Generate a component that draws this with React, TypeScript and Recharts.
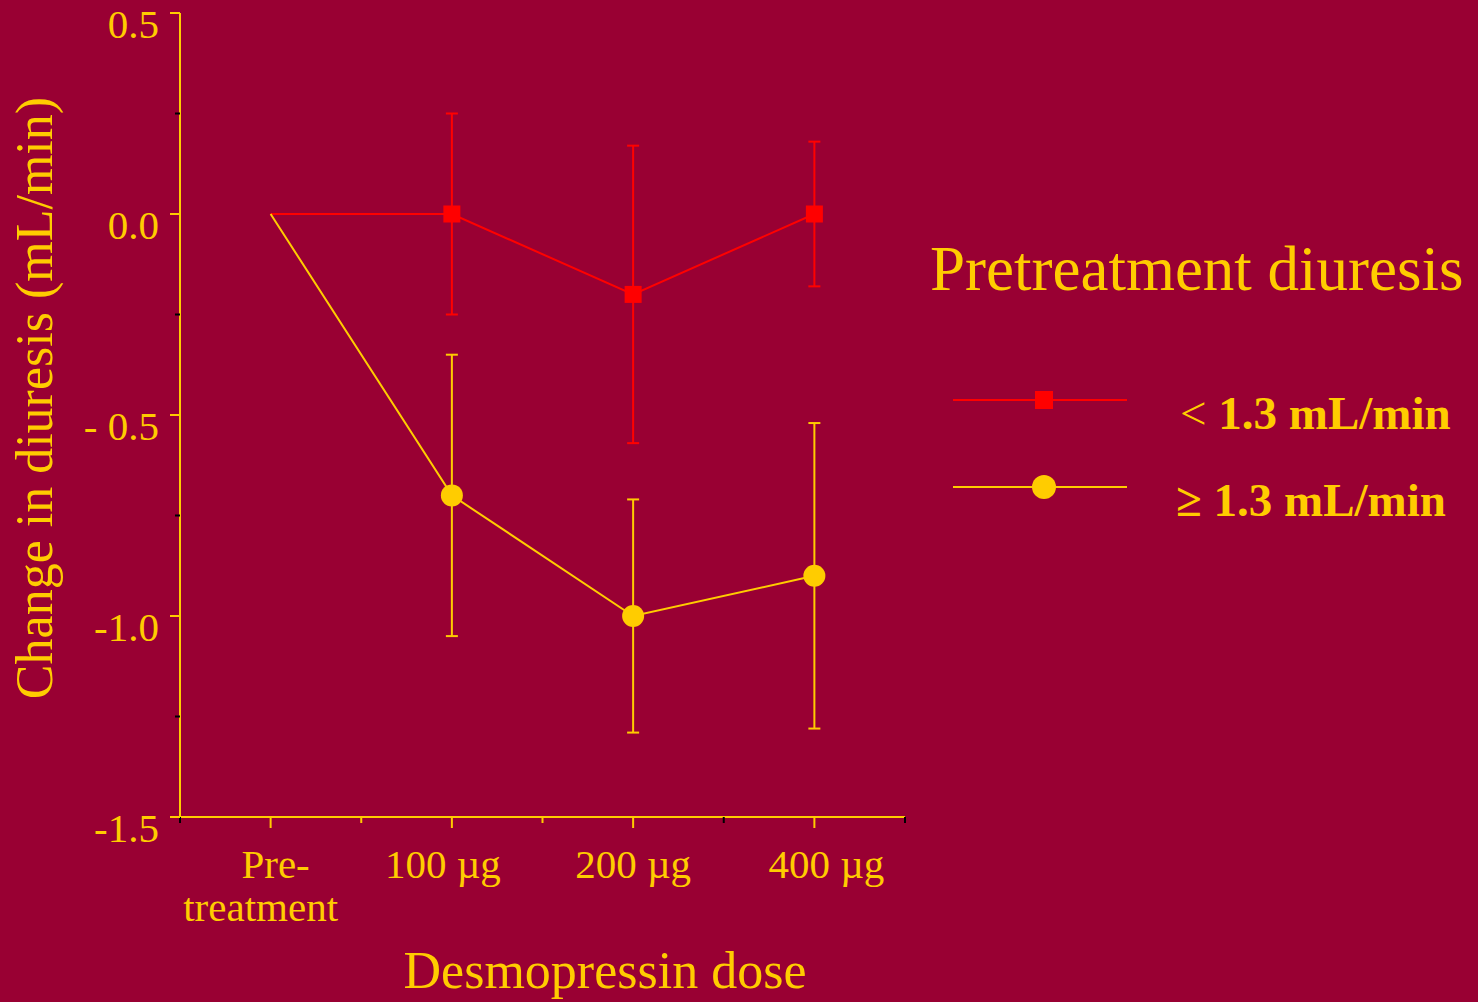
import { LineChart, Line, XAxis, YAxis, ErrorBar, Legend } from "recharts";

const BG = "#990033";
const YELLOW = "#FFCC00";
const RED = "#FF0000";
const FONT = '"Liberation Serif", "Times New Roman", Times, serif';

// x categories
const doses = ["Pre-\ntreatment", "100 µg", "200 µg", "400 µg"];

// pretreatment diuresis < 1.3 mL/min
const lowMean = [0, 0, -0.2, 0];
const lowErr = [null, 0.25, 0.37, 0.18];

// pretreatment diuresis >= 1.3 mL/min
const highMean = [0, -0.7, -1.0, -0.9];
const highErr = [null, 0.35, 0.29, 0.38];

const seriesNames = ["< 1.3 mL/min", "≥ 1.3 mL/min"];

const yTicks = [-1.5, -1.25, -1, -0.75, -0.5, -0.25, 0, 0.25, 0.5];
const majorTicks = [0.5, 0, -0.5, -1, -1.5];
const majorLabels = ["0.5", "0.0", "- 0.5", "-1.0", "-1.5"];

const data = doses.map((dose, i) => ({
  dose,
  low: lowMean[i],
  lowErr: lowErr[i],
  high: highMean[i],
  highErr: highErr[i],
}));

const boundaryColors = ["#000", YELLOW, YELLOW, "#000", "#000"];
const labelShift = [0, -9, 0, 12];

function XTick(props: any) {
  const { x, y, payload, index } = props;
  const half = payload.offset || 90.6;
  const lines = String(payload.value).split("\n");
  const tx = x + labelShift[index];
  return (
    <g>
      <line x1={x} x2={x} y1={y} y2={y + 11} stroke={YELLOW} strokeWidth={2} />
      <line x1={x - half} x2={x - half} y1={y} y2={y + 6} stroke={boundaryColors[index]} strokeWidth={2} />
      {index === doses.length - 1 && (
        <line x1={x + half} x2={x + half} y1={y} y2={y + 6} stroke={boundaryColors[index + 1]} strokeWidth={2} />
      )}
      <text x={tx} y={y + 61} textAnchor="middle" fill={YELLOW} fontSize={41} fontFamily={FONT}>
        {lines.map((l, i) => (
          <tspan key={i} x={i === 0 && lines.length > 1 ? tx + 5 : tx - 10 * (lines.length - 1)} dy={i === 0 ? 0 : 43}>
            {l}
          </tspan>
        ))}
      </text>
    </g>
  );
}

function YTick(props: any) {
  const { x, y, payload } = props;
  const mi = majorTicks.indexOf(payload.value);
  if (mi < 0) {
    return <line x1={x - 5} x2={x} y1={y} y2={y} stroke="#000" strokeWidth={2} />;
  }
  return (
    <g>
      <line x1={x - 10} x2={x} y1={y} y2={y} stroke={YELLOW} strokeWidth={2} />
      <text x={x - 21} y={y + 25} textAnchor="end" fill={YELLOW} fontSize={41} fontFamily={FONT}>
        {majorLabels[mi]}
      </text>
    </g>
  );
}

const SquareDot = (p: any) =>
  p.index === 0 ? (
    <g key={p.key} />
  ) : (
    <rect key={p.key} x={p.cx - 8.5} y={p.cy - 8.5} width={17} height={17} fill={RED} />
  );

const CircleDot = (p: any) =>
  p.index === 0 ? <g key={p.key} /> : <circle key={p.key} cx={p.cx} cy={p.cy} r={11} fill={YELLOW} />;

function LegendBox() {
  const rows = [
    { y: 400, color: RED, square: true },
    { y: 487, color: YELLOW, square: false },
  ];
  return (
    <svg width={1478} height={1002} style={{ display: "block" }}>
      <text x={930} y={290} fill={YELLOW} fontSize={63} fontFamily={FONT}>
        Pretreatment diuresis
      </text>
      {rows.map((r, i) => {
        const [sym, ...rest] = seriesNames[i].split(" ");
        return (
          <g key={i}>
            <line x1={953} x2={1127} y1={r.y} y2={r.y} stroke={r.color} strokeWidth={2} />
            {r.square ? (
              <rect x={1035} y={r.y - 9} width={18} height={18} fill={r.color} />
            ) : (
              <circle cx={1044} cy={r.y} r={12} fill={r.color} />
            )}
            <text x={i === 0 ? 1180 : 1176} y={r.y + 29} fill={YELLOW} fontSize={47} fontFamily={FONT}>
              <tspan fontWeight={i === 0 ? "normal" : "bold"}>{sym}</tspan>
              <tspan fontWeight="bold">{" " + rest.join(" ")}</tspan>
            </text>
          </g>
        );
      })}
    </svg>
  );
}

export default function App() {
  return (
    <div style={{ position: "absolute", left: 0, top: 0, width: 1478, height: 1002, background: BG }}>
      <LineChart
        width={1478}
        height={1002}
        data={data}
        margin={{ top: 13, right: 573, bottom: 0, left: 0 }}
      >
        <XAxis
          dataKey="dose"
          type="category"
          scale="band"
          height={185}
          axisLine={{ stroke: YELLOW, strokeWidth: 2 }}
          tickLine={false}
          tickSize={0}
          tickMargin={0}
          interval={0}
          tick={<XTick />}
          label={{
            content: () => (
              <text x={605} y={988} textAnchor="middle" fill={YELLOW} fontSize={52} fontFamily={FONT}>
                Desmopressin dose
              </text>
            ),
          }}
        />
        <YAxis
          type="number"
          domain={[-1.5, 0.5]}
          ticks={yTicks}
          width={180}
          axisLine={{ stroke: YELLOW, strokeWidth: 2 }}
          tickLine={false}
          tickSize={0}
          tickMargin={0}
          interval={0}
          tick={<YTick />}
          label={{
            content: () => (
              <text
                transform="translate(52,398) rotate(-90)"
                textAnchor="middle"
                fill={YELLOW}
                fontSize={52}
                fontFamily={FONT}
              >
                Change in diuresis (mL/min)
              </text>
            ),
          }}
        />
        <Legend
          layout="vertical"
          align="center"
          verticalAlign="middle"
          wrapperStyle={{ left: 0, top: 0, width: 1478, height: 1002, pointerEvents: "none" }}
          content={() => <LegendBox />}
        />
        <Line
          dataKey="low"
          name={seriesNames[0]}
          stroke={RED}
          strokeWidth={2}
          dot={SquareDot}
          activeDot={false}
          isAnimationActive={false}
        >
          <ErrorBar dataKey="lowErr" width={6} stroke={RED} strokeWidth={2} direction="y" isAnimationActive={false} />
        </Line>
        <Line
          dataKey="high"
          name={seriesNames[1]}
          stroke={YELLOW}
          strokeWidth={2}
          dot={CircleDot}
          activeDot={false}
          isAnimationActive={false}
        >
          <ErrorBar dataKey="highErr" width={6} stroke={YELLOW} strokeWidth={2} direction="y" isAnimationActive={false} />
        </Line>
      </LineChart>
    </div>
  );
}
